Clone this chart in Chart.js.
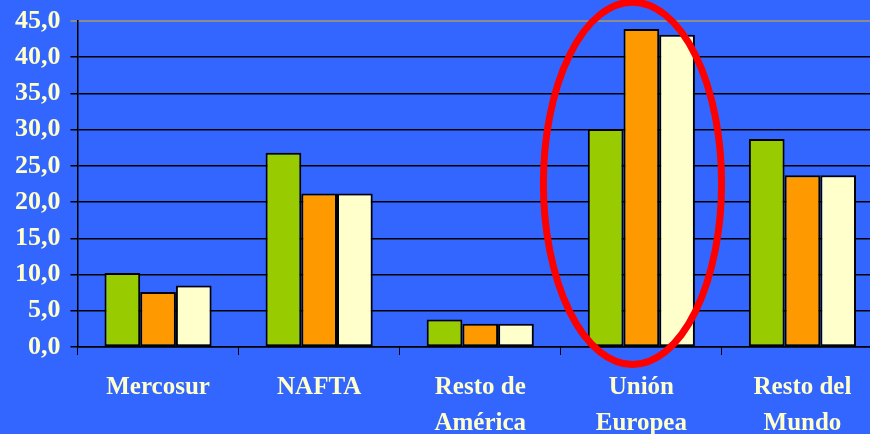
<!DOCTYPE html>
<html>
<head>
<meta charset="utf-8">
<script src="https://cdn.jsdelivr.net/npm/chart.js@4/dist/chart.umd.min.js"></script>
<style>
  html, body { margin: 0; padding: 0; background: #3366FF; overflow: hidden; }
  #wrap { width: 890px; height: 434px; }
</style>
</head>
<body>
<div id="wrap"><canvas id="grafico"></canvas></div>
<script>
// datos
const regiones = [['Mercosur'], ['NAFTA'], ['Resto de', 'América'], ['Unión', 'Europea'], ['Resto del', 'Mundo']];
const serieVerde = [10.2, 26.8, 3.8, 30.1, 28.7];
const serieNaranja = [7.6, 21.2, 3.2, 43.9, 23.7];
const serieCrema = [8.5, 21.2, 3.2, 43.1, 23.7];
const marcasY = [0, 5, 10, 15, 20, 25, 30, 35, 40, 45];

const colorTexto = '#FFFFCC';

// elipse roja alrededor de Union Europea
const elipse = {
  id: 'elipse',
  afterDatasetsDraw(chart) {
    const { ctx, scales: { x, y } } = chart;
    const ancho = x.getPixelForValue(1) - x.getPixelForValue(0);
    const cx = x.getPixelForValue(3) - ancho * 0.055;
    const arriba = y.getPixelForValue(47.6);
    const abajo = y.getPixelForValue(-2.4);
    ctx.save();
    ctx.strokeStyle = '#FF0000';
    ctx.lineWidth = 7;
    ctx.beginPath();
    ctx.ellipse(cx, (arriba + abajo) / 2, ancho * 0.553, (abajo - arriba) / 2, 0, 0, Math.PI * 2);
    ctx.stroke();
    ctx.restore();
  }
};

new Chart(document.getElementById('grafico'), {
  type: 'bar',
  data: {
    labels: regiones,
    datasets: [
      { data: serieVerde, backgroundColor: '#99CC00' },
      { data: serieNaranja, backgroundColor: '#FF9900' },
      { data: serieCrema, backgroundColor: '#FFFFCC' }
    ].map(d => ({ ...d, borderColor: '#000000', borderWidth: 2, borderSkipped: false,
                  categoryPercentage: 0.665, barPercentage: 1.0 }))
  },
  options: {
    responsive: true,
    maintainAspectRatio: false,
    animation: false,
    layout: { padding: { top: 21, left: 0, right: 7, bottom: 0 } },
    plugins: { legend: { display: false }, tooltip: { enabled: false } },
    scales: {
      x: {
        grid: { offset: true, drawOnChartArea: false, drawTicks: true, tickLength: 8, color: '#000000' },
        border: { color: '#000000', width: 1.5 },
        ticks: {
          color: colorTexto,
          padding: 15,
          maxRotation: 0,
          font: { family: 'Liberation Serif', weight: 'bold', size: 25, lineHeight: 1.44 }
        },
        afterFit(s) { s.height = 87; }
      },
      y: {
        min: 0,
        max: 45,
        afterBuildTicks(s) { s.ticks = marcasY.map(v => ({ value: v })); },
        grid: {
          color: c => (c.tick && c.tick.value === 45) ? '#8C8C8C' : '#000000',
          lineWidth: c => (c.tick && c.tick.value === 45) ? 2 : 1.5,
          tickLength: 7,
          drawTicks: true
        },
        border: { color: '#000000', width: 1.5 },
        ticks: {
          color: colorTexto,
          padding: 10,
          callback: v => v.toFixed(1).replace('.', ','),
          font: { family: 'Liberation Serif', weight: 'bold', size: 26, lineHeight: 0.5 }
        },
        afterFit(s) { s.width = 77.5; }
      }
    }
  },
  plugins: [elipse]
});
</script>
</body>
</html>
